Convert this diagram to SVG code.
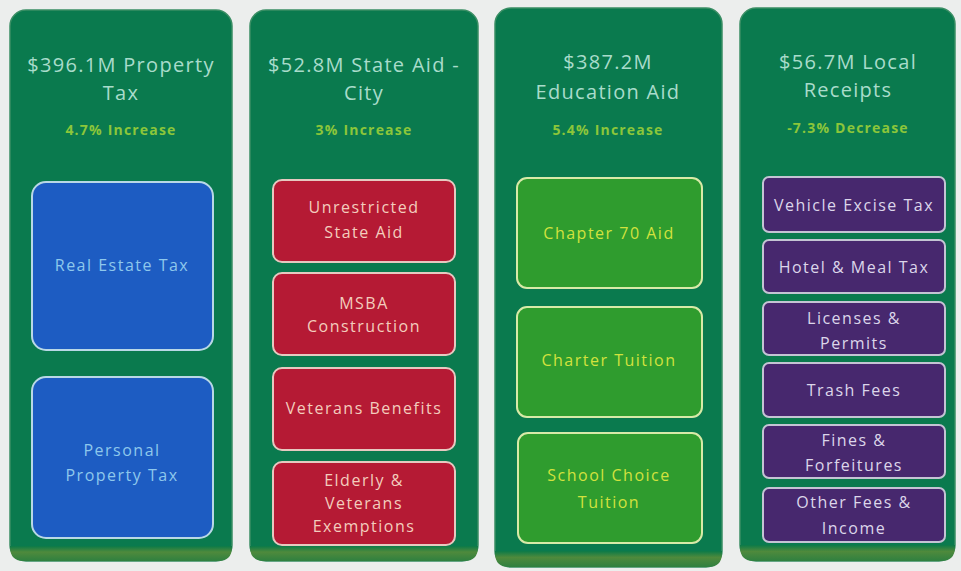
<svg xmlns="http://www.w3.org/2000/svg" width="961" height="571" viewBox="0 0 961 571">
<defs>
<linearGradient id="band" x1="0" y1="0" x2="0" y2="1">
<stop offset="0" stop-color="#0b7a48"/>
<stop offset="0.4" stop-color="#4f8a3c"/>
<stop offset="1" stop-color="#2f8040"/>
</linearGradient>
<style>
.panel{fill:#0a7a4e;stroke:#3a8e64;stroke-width:1.5}
.hd{font-family:"Open Sans","DejaVu Sans",sans-serif;font-size:20px;fill:#a9dccb;text-anchor:middle;letter-spacing:1.3px}
.pc{font-family:"Open Sans","DejaVu Sans",sans-serif;font-size:14px;font-weight:bold;fill:#8cc63a;text-anchor:middle;letter-spacing:1.2px}
.bx{stroke-width:2}
.t{font-family:"Open Sans","DejaVu Sans",sans-serif;font-size:16px;text-anchor:middle;letter-spacing:1.5px}
.blue{fill:#1d5cc2;stroke:#b9d8e6}
.tb{fill:#8ec8ec}
.red{fill:#b51a34;stroke:#e6c9c0}
.tr{fill:#f3cdbd}
.grn{fill:#2f9c2e;stroke:#d8eaa8}
.tg{fill:#d2e23e}
.pur{fill:#47286e;stroke:#c4c4d4}
.tp{fill:#dcd6ea}
</style>
</defs>
<rect x="0" y="0" width="961" height="571" fill="#eceeed"/>

<g id="col-property-tax">
<rect class="panel" x="10" y="10" width="222" height="551" rx="16"/>
<path d="M10,546 H232 V547 Q232,561 218,561 H24 Q10,561 10,547 Z" fill="url(#band)"/>
<text class="hd" x="121" y="72">$396.1M Property</text>
<text class="hd" x="121" y="100">Tax</text>
<text class="pc" x="121" y="135">4.7% Increase</text>
</g>
<g id="real-estate-tax">
<rect class="bx blue" x="32" y="182" width="181" height="168" rx="14"/>
<text class="t tb" x="122" y="271">Real Estate Tax</text>
</g>
<g id="personal-property-tax">
<rect class="bx blue" x="32" y="377" width="181" height="161" rx="14"/>
<text class="t tb" x="122" y="456">Personal</text>
<text class="t tb" x="122" y="481">Property Tax</text>
</g>

<g id="col-state-aid">
<rect class="panel" x="250" y="10" width="228" height="551" rx="16"/>
<path d="M250,546 H478 V547 Q478,561 464,561 H264 Q250,561 250,547 Z" fill="url(#band)"/>
<text class="hd" x="364" y="72">$52.8M State Aid -</text>
<text class="hd" x="364" y="100">City</text>
<text class="pc" x="364" y="135">3% Increase</text>
</g>
<g id="unrestricted-state-aid">
<rect class="bx red" x="273" y="180" width="182" height="82" rx="9"/>
<text class="t tr" x="364" y="213">Unrestricted</text>
<text class="t tr" x="364" y="238">State Aid</text>
</g>
<g id="msba-construction">
<rect class="bx red" x="273" y="273" width="182" height="82" rx="9"/>
<text class="t tr" x="364" y="309">MSBA</text>
<text class="t tr" x="364" y="332">Construction</text>
</g>
<g id="veterans-benefits">
<rect class="bx red" x="273" y="368" width="182" height="82" rx="9"/>
<text class="t tr" x="364" y="414">Veterans Benefits</text>
</g>
<g id="elderly-veterans-exemptions">
<rect class="bx red" x="273" y="462" width="182" height="83" rx="9"/>
<text class="t tr" x="364" y="486">Elderly &amp;</text>
<text class="t tr" x="364" y="509">Veterans</text>
<text class="t tr" x="364" y="532">Exemptions</text>
</g>

<g id="col-education-aid">
<rect class="panel" x="495" y="8" width="227" height="559" rx="16"/>
<path d="M495,551 H722 V553 Q722,567 708,567 H509 Q495,567 495,553 Z" fill="url(#band)"/>
<text class="hd" x="608" y="69">$387.2M</text>
<text class="hd" x="608" y="99">Education Aid</text>
<text class="pc" x="608" y="135">5.4% Increase</text>
</g>
<g id="chapter-70-aid">
<rect class="bx grn" x="517" y="178" width="185" height="110" rx="10"/>
<text class="t tg" x="609" y="239">Chapter 70 Aid</text>
</g>
<g id="charter-tuition">
<rect class="bx grn" x="517" y="307" width="185" height="110" rx="10"/>
<text class="t tg" x="609" y="366">Charter Tuition</text>
</g>
<g id="school-choice-tuition">
<rect class="bx grn" x="518" y="433" width="184" height="110" rx="10"/>
<text class="t tg" x="609" y="481">School Choice</text>
<text class="t tg" x="609" y="508">Tuition</text>
</g>

<g id="col-local-receipts">
<rect class="panel" x="740" y="8" width="215" height="553" rx="16"/>
<path d="M740,545 H955 V547 Q955,561 941,561 H754 Q740,561 740,547 Z" fill="url(#band)"/>
<text class="hd" x="848" y="69">$56.7M Local</text>
<text class="hd" x="848" y="97">Receipts</text>
<text class="pc" x="848" y="133">-7.3% Decrease</text>
</g>
<g id="vehicle-excise-tax">
<rect class="bx pur" x="763" y="177" width="182" height="55" rx="6"/>
<text class="t tp" x="854" y="211">Vehicle Excise Tax</text>
</g>
<g id="hotel-meal-tax">
<rect class="bx pur" x="763" y="240" width="182" height="53" rx="6"/>
<text class="t tp" x="854" y="273">Hotel &amp; Meal Tax</text>
</g>
<g id="licenses-permits">
<rect class="bx pur" x="763" y="302" width="182" height="53" rx="6"/>
<text class="t tp" x="854" y="324">Licenses &amp;</text>
<text class="t tp" x="854" y="349">Permits</text>
</g>
<g id="trash-fees">
<rect class="bx pur" x="763" y="363" width="182" height="54" rx="6"/>
<text class="t tp" x="854" y="396">Trash Fees</text>
</g>
<g id="fines-forfeitures">
<rect class="bx pur" x="763" y="425" width="182" height="53" rx="6"/>
<text class="t tp" x="854" y="446">Fines &amp;</text>
<text class="t tp" x="854" y="471">Forfeitures</text>
</g>
<g id="other-fees-income">
<rect class="bx pur" x="763" y="488" width="182" height="54" rx="6"/>
<text class="t tp" x="854" y="508">Other Fees &amp;</text>
<text class="t tp" x="854" y="534">Income</text>
</g>
<g id="connectors"/>
</svg>
